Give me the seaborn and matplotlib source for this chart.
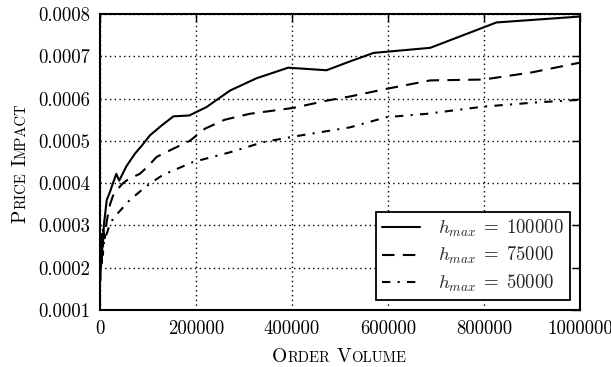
import numpy as np
import pandas as pd
import matplotlib
matplotlib.use("Agg")
import matplotlib.pyplot as plt
import seaborn as sns
from matplotlib.ticker import FixedLocator, FixedFormatter

# Price impact of an order, for three maximum holding sizes
vol_100k = [1000, 2000, 3000, 4500, 6000, 8000, 11000, 14000, 21000, 27000, 34000,
            40000, 55000, 73000, 88000, 104000, 128000, 153000, 186000, 222000,
            271000, 326000, 392000, 472000, 521000, 570000, 688000, 826000, 1000000]
impact_100k = [0.00017, 0.00026, 0.00021, 0.00028, 0.00025, 0.00030, 0.00033, 0.00036,
               0.00038, 0.00040, 0.000422, 0.000406, 0.00044, 0.00047, 0.00049, 0.000513,
               0.000536, 0.000558, 0.00056, 0.00058, 0.000619, 0.000648, 0.000673,
               0.000667, 0.000688, 0.000708, 0.00072, 0.00078, 0.000794]

vol_75k = [1500, 3000, 4500, 6500, 10000, 14000, 21000, 27000, 33000, 40000, 48000,
           60000, 83000, 100000, 118000, 150000, 187000, 219000, 260000, 312000, 403000,
           472000, 521000, 597000, 688000, 799000, 900000, 1000000]
impact_75k = [0.00022, 0.00028, 0.00024, 0.00029, 0.00027, 0.00031, 0.00035, 0.00037,
              0.00038, 0.00039, 0.0004, 0.00041, 0.000422, 0.00044, 0.000462, 0.00048,
              0.0005, 0.000529, 0.00055, 0.000564, 0.000578, 0.000595, 0.000605,
              0.000623, 0.000643, 0.000645, 0.000662, 0.000685]

vol_50k = [2000, 4000, 6000, 9000, 14000, 21000, 30000, 42000, 62000, 83000, 105000,
           132000, 194000, 271000, 340000, 403000, 521000, 597000, 681000, 799000,
           910000, 1000000]
impact_50k = [0.0002, 0.00025, 0.00023, 0.00027, 0.00028, 0.000305, 0.00032, 0.000335,
              0.00036, 0.00038, 0.0004, 0.00042, 0.00045, 0.000473, 0.000497, 0.00051,
              0.000532, 0.000556, 0.000564, 0.000581, 0.000591, 0.000597]

series_labels = [r"$h_{max}\;=\;100000$", r"$h_{max}\;=\;75000$", r"$h_{max}\;=\;50000$"]

x_ticks = [0, 200000, 400000, 600000, 800000, 1000000]
x_tick_labels = ["0", "200000", "400000", "600000", "800000", "1000000"]
y_ticks = [0.0001, 0.0002, 0.0003, 0.0004, 0.0005, 0.0006, 0.0007, 0.0008]
y_tick_labels = ["0.0001", "0.0002", "0.0003", "0.0004", "0.0005", "0.0006", "0.0007", "0.0008"]

sns.set_theme(style="white")
plt.rcParams.update({
    "font.family": ["cmr10", "DejaVu Serif"],
    "mathtext.fontset": "cm",
    "axes.formatter.use_mathtext": True,
    "axes.unicode_minus": False,
    "axes.edgecolor": "black",
    "axes.linewidth": 1.5,
})

W, H = 611, 367
fig = plt.figure(figsize=(W / 100, H / 100), dpi=100)
ax = fig.add_axes([100 / W, 1 - 310 / H, 480 / W, 296 / H])

styles = ["-", (0, (6, 4)), (0, (4, 3.5, 1, 3.5))]
for vol, imp, lab, ls in zip([vol_100k, vol_75k, vol_50k],
                             [impact_100k, impact_75k, impact_50k],
                             series_labels, styles):
    df = pd.DataFrame({"volume": vol, "impact": imp})
    sns.lineplot(data=df, x="volume", y="impact", color="black", linewidth=1.5,
                 linestyle=ls, estimator=None, label=lab, ax=ax)

ax.set_xlim(0, 1000000)
ax.set_ylim(0.0001, 0.0008)
ax.xaxis.set_major_locator(FixedLocator(x_ticks))
ax.xaxis.set_major_formatter(FixedFormatter(x_tick_labels))
ax.yaxis.set_major_locator(FixedLocator(y_ticks))
ax.yaxis.set_major_formatter(FixedFormatter(y_tick_labels))
ax.tick_params(direction="in", top=True, right=True, length=6, width=1,
               labelsize=13.5, pad=7, colors="black")
ax.grid(True, linestyle=(0, (1, 2.4)), color="black", linewidth=1)
ax.set_xlabel("")
ax.set_ylabel("")
for s in ax.spines.values():
    s.set_visible(True)
    s.set_color("black")

leg = ax.legend(loc="lower right", fontsize=13.5, frameon=True, fancybox=False,
                edgecolor="black", framealpha=1, borderaxespad=0.55,
                handlelength=2.0, handletextpad=1.0, labelspacing=0.35,
                borderpad=0.3)
leg.get_frame().set_linewidth(1.3)


def small_caps(pieces, center_px, baseline_px, vertical=False):
    """Write text in small capitals: pieces of (text, size), blanks as ' '."""
    r = fig.canvas.get_renderer()
    widths = []
    for s, size in pieces:
        if s == " ":
            widths.append(0.33 * size * fig.dpi / 72)
            continue
        t = fig.text(0, 0, s, fontsize=size)
        widths.append(t.get_window_extent(r).width)
        t.remove()
    pos = center_px - sum(widths) / 2
    for (s, size), w in zip(pieces, widths):
        if s != " ":
            if vertical:
                fig.text(baseline_px / W, pos / H, s, fontsize=size, rotation=90,
                         rotation_mode="anchor", ha="left", va="baseline", color="black")
            else:
                fig.text(pos / W, baseline_px / H, s, fontsize=size,
                         ha="left", va="baseline", color="black")
        pos += w


big, small = 14, 10.5
small_caps([("O", big), ("RDER", small), (" ", big), ("V", big), ("OLUME", small)],
           center_px=339, baseline_px=H - 362)
small_caps([("P", big), ("RICE", small), (" ", big), ("I", big), ("MPACT", small)],
           center_px=H - 163, baseline_px=25, vertical=True)

fig.savefig("out.png", dpi=100)
